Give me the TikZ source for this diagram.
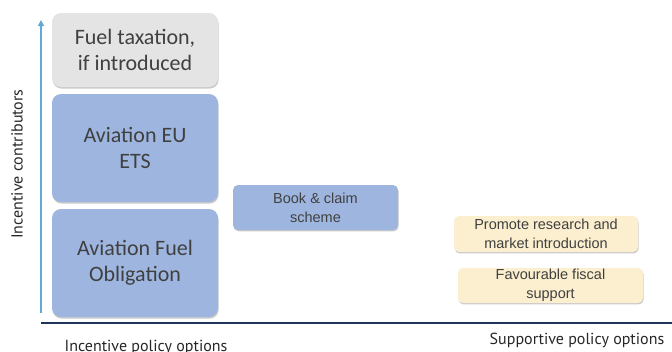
\documentclass[tikz,border=0pt]{standalone}
\usepackage{fontspec}
\setmainfont{Carlito}
\newfontfamily\arialfont{Liberation Sans}
\newfontfamily\axisfont{PT Sans}
\usetikzlibrary{shadows,arrows.meta}
\definecolor{incblue}{HTML}{9EB6DF}
\definecolor{fuelgrey}{HTML}{E4E4E4}
\definecolor{cream}{HTML}{FBEFCF}
\definecolor{txt}{HTML}{404040}
\definecolor{axisnavy}{HTML}{1F3558}
\definecolor{arrowblue}{HTML}{62A9D3}
\tikzset{
  bigbox/.style={rounded corners=9pt, text=txt, font=\fontsize{22}{26}\selectfont,
    align=center, inner sep=0pt,
    drop shadow={shadow xshift=0.6pt, shadow yshift=-1.6pt, opacity=0.35, fill=black!60}},
  smallbox/.style={rounded corners=5pt, text=txt, font=\arialfont\fontsize{14.5}{19}\selectfont,
    align=center, inner sep=0pt,
    drop shadow={shadow xshift=0.6pt, shadow yshift=-1.4pt, opacity=0.35, fill=black!60}},
  axislabel/.style={text=black!85, font=\axisfont\fontsize{16}{18}\selectfont, inner sep=0pt}
}
\begin{document}
\begin{tikzpicture}[x=1pt,y=-1pt]
\useasboundingbox (0,0) rectangle (672,351);
% incentive stack
\node[bigbox, fill=fuelgrey, minimum width=166pt, minimum height=74pt] (tax) at (135,50) {Fuel taxation,\\if introduced};
\node[bigbox, fill=incblue, minimum width=166pt, minimum height=108pt] (ets) at (135,148) {Aviation EU\\ETS};
\node[bigbox, fill=incblue, minimum width=166pt, minimum height=108pt] (afo) at (135,263) {\raisebox{12pt}{\begin{tabular}{@{}c@{}}Aviation Fuel\\Obligation\end{tabular}}};
% book & claim
\node[smallbox, fill=incblue, minimum width=165pt, minimum height=45pt] (book) at (315.5,207.5) {Book \& claim\\scheme};
% supportive options
\node[smallbox, fill=cream, minimum width=184pt, minimum height=36pt] (research) at (546,234) {Promote research and\\market introduction};
\node[smallbox, fill=cream, minimum width=185pt, minimum height=35pt] (fiscal) at (550.5,285.5) {Favourable fiscal\\support};
% axes
\coordinate (ybot) at (41,313);
\coordinate (ytop) at (41,20);
\draw[arrowblue, line width=2pt, -{Triangle[length=6pt,width=6pt]}] (ybot) -- (ytop);
\coordinate (xl) at (41,323);
\coordinate (xr) at (672,323);
\draw[axisnavy, line width=2.2pt] (xl) -- (xr);
\node[axislabel, rotate=90] (ylab) at (17,164) {Incentive contributors};
\node[axislabel, anchor=base] (xlab1) at (146,351) {Incentive policy options};
\node[axislabel, anchor=base] (xlab2) at (577,344) {Supportive policy options};
\end{tikzpicture}
\end{document}
